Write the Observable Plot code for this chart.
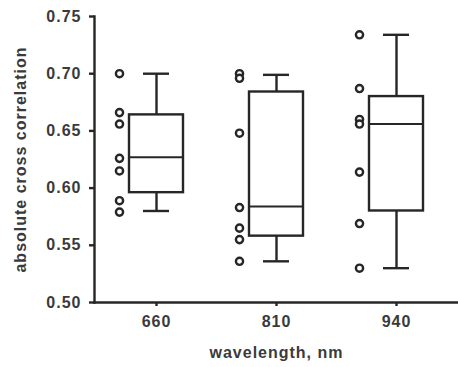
<!DOCTYPE html>
<html><head><meta charset="utf-8">
<script src="https://cdn.jsdelivr.net/npm/d3@7"></script>
<script src="https://cdn.jsdelivr.net/npm/@observablehq/plot@0.6"></script>
<style>body{margin:0;background:#fff}</style>
</head><body><div id="chart"></div>
<script>
const categories = ["660", "810", "940"];
const whiskerLow  = [0.580, 0.536, 0.530];
const quartile1   = [0.596, 0.558, 0.580];
const medians     = [0.627, 0.584, 0.656];
const quartile3   = [0.664, 0.684, 0.680];
const whiskerHigh = [0.700, 0.699, 0.734];
const points660 = [0.700, 0.666, 0.656, 0.626, 0.615, 0.589, 0.579];
const points810 = [0.700, 0.696, 0.648, 0.583, 0.565, 0.555, 0.536];
const points940 = [0.734, 0.687, 0.660, 0.656, 0.614, 0.569, 0.530];
const yTicks = [0.50, 0.55, 0.60, 0.65, 0.70, 0.75];

const boxes = categories.map((c, i) => ({cat: c, lo: whiskerLow[i], q1: quartile1[i], med: medians[i], q3: quartile3[i], hi: whiskerHigh[i]}));
const pts = [
  ...points660.map(v => ({cat: "660", v})),
  ...points810.map(v => ({cat: "810", v})),
  ...points940.map(v => ({cat: "940", v}))
];
const ink = "#262626";
const sw = 2.4;

const chart = Plot.plot({
  width: 458, height: 367,
  marginTop: 16, marginBottom: 65, marginLeft: 94, marginRight: 0,
  style: {fontFamily: "'Liberation Sans', Arial, sans-serif", fontSize: "16px", fontWeight: "bold", color: "#3a3a3a", letterSpacing: "1px", background: "#fff"},
  x: {domain: categories, paddingInner: 0.547, paddingOuter: 0.284},
  y: {domain: [0.5, 0.75]},
  marks: [
    Plot.frame({anchor: "left", stroke: ink, strokeWidth: sw}),
    Plot.frame({anchor: "bottom", stroke: ink, strokeWidth: sw}),
    Plot.ruleX(boxes, {x: "cat", y1: "lo", y2: "q1", stroke: ink, strokeWidth: sw}),
    Plot.ruleX(boxes, {x: "cat", y1: "q3", y2: "hi", stroke: ink, strokeWidth: sw}),
    Plot.tickY(boxes, {x: "cat", y: "lo", insetLeft: 14, insetRight: 14, stroke: ink, strokeWidth: sw}),
    Plot.tickY(boxes, {x: "cat", y: "hi", insetLeft: 14, insetRight: 14, stroke: ink, strokeWidth: sw}),
    Plot.barY(boxes, {x: "cat", y1: "q1", y2: "q3", fill: "white", stroke: ink, strokeWidth: sw}),
    Plot.tickY(boxes, {x: "cat", y: "med", stroke: ink, strokeWidth: 2}),
    Plot.dot(pts, {x: "cat", y: "v", dx: -37, r: 3.6, stroke: ink, strokeWidth: 2.4, fill: "white"}),
    Plot.axisY({ticks: yTicks, tickFormat: ".2f", tickSize: 5, tickPadding: 8, stroke: ink, strokeWidth: sw,
      label: "absolute cross correlation", labelAnchor: "center", labelOffset: 80, labelArrow: "none"}),
    Plot.axisX({tickSize: 4, tickPadding: 9, stroke: ink, strokeWidth: sw,
      label: "wavelength, nm", labelAnchor: "center", labelOffset: 55, labelArrow: "none"})
  ]
});
document.getElementById("chart").appendChild(chart);
</script>
</body></html>
